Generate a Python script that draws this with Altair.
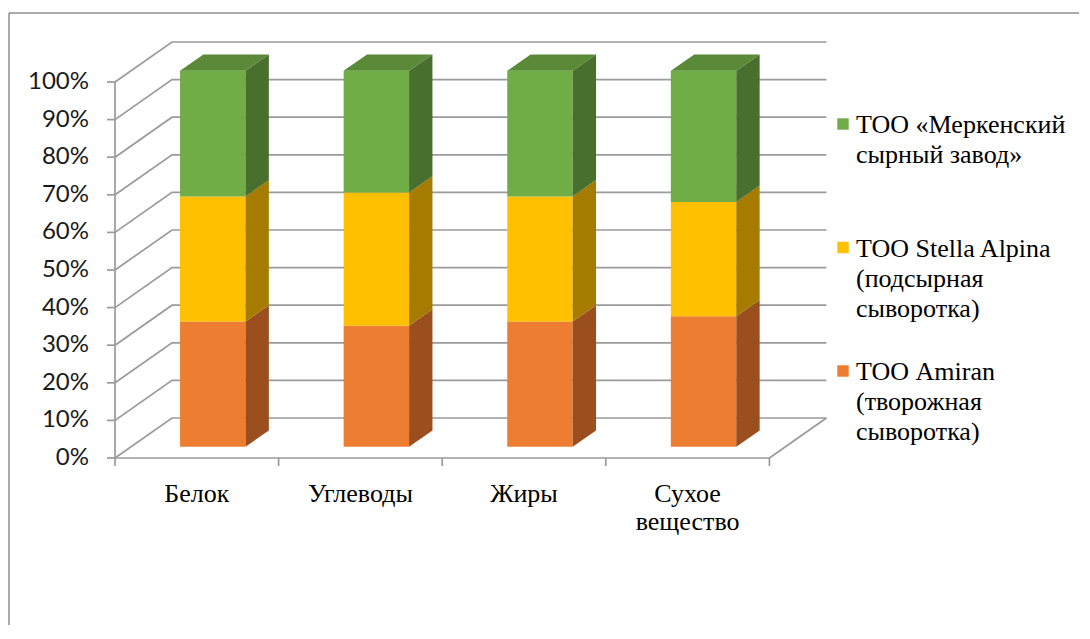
import altair as alt
import pandas as pd

# ---------------- data ----------------
categories = ["Белок", "Углеводы", "Жиры", "Сухое\nвещество"]
series_names = [
    "ТОО Amiran\n(творожная\nсыворотка)",
    "ТОО Stella Alpina\n(подсырная\nсыворотка)",
    "ТОО «Меркенский\nсырный завод»",
]
amiran = [33.3, 32.2, 33.3, 34.7]
stella = [33.3, 35.4, 33.3, 30.4]
merken = [33.4, 32.4, 33.4, 34.9]
y_ticks = [0, 10, 20, 30, 40, 50, 60, 70, 80, 90, 100]

# ---------------- style / projection ----------------
front_colors = ["#ED7D31", "#FFC000", "#70AD47"]
side_colors = ["#9B4F1E", "#A57C00", "#486F2E"]
top_color = "#5A8A38"
grid_color = "#9a9a9a"

W, H = 1070, 612                 # view (frame) size
PX_CAT, PX_PCT = 163.6, 3.76     # pixels per category / per percent
X0, Y0 = 106, 445                # front-plane origin inside view
DEPTH_PX = (57, 40)              # 3-D depth offset in pixels
DXU = DEPTH_PX[0] / PX_CAT
DYU = DEPTH_PX[1] / PX_PCT
BAR_W = 0.4
D_FRONT, D_BACK = 0.28, 0.69
TICK = 8

xs = alt.Scale(domain=[0, 4], range=[X0, X0 + 4 * PX_CAT], zero=False, nice=False)
ys = alt.Scale(domain=[0, 100], range=[Y0, Y0 - 100 * PX_PCT], zero=False, nice=False)


def proj(cx, pct, d):
    return cx + d * DXU, pct + d * DYU


# ---------------- gridlines / walls ----------------
rows = []
def add_line(gid, pts):
    for k, (x, y) in enumerate(pts):
        rows.append({"gid": gid, "seq": k, "x": x, "y": y})

for p in y_ticks:
    add_line(f"g{p}", [proj(0, p, 0), proj(0, p, 1), proj(4, p, 1)])
    add_line(f"t{p}", [(-TICK / PX_CAT, p), (0, p)])
add_line("floor_front", [proj(0, 0, 0), proj(4, 0, 0)])
add_line("floor_right", [proj(4, 0, 0), proj(4, 0, 1)])
add_line("front_axis", [proj(0, 0, 0), proj(0, 100, 0)])
for i in range(5):
    add_line(f"xt{i}", [(i, 0), (i, -TICK / PX_PCT)])
grid_df = pd.DataFrame(rows)

grid = alt.Chart(grid_df).mark_line(color=grid_color, strokeWidth=1.7).encode(
    x=alt.X("x:Q", scale=xs, axis=None),
    y=alt.Y("y:Q", scale=ys, axis=None),
    detail="gid:N",
    order="seq:Q",
)

# ---------------- bars ----------------
values = [amiran, stella, merken]
front_rows, side_rows, top_rows = [], [], []
for i in range(len(categories)):
    base = 0.0
    for s, vals in enumerate(values):
        lo, hi = base, base + vals[i]
        base = hi
        xl = i + 0.5 - BAR_W / 2
        xr = i + 0.5 + BAR_W / 2
        fx0, fy0 = proj(xl, lo, D_FRONT)
        fx1, fy1 = proj(xr, hi, D_FRONT)
        front_rows.append({"series": series_names[s], "x": fx0, "x2": fx1, "y": fy0, "y2": fy1})
        fid = f"{i}-{s}"
        for d in (D_FRONT, D_BACK):
            sx, sy0 = proj(xr, lo, d)
            _, sy1 = proj(xr, hi, d)
            side_rows.append({"face": fid, "series": series_names[s], "x": sx, "y": sy0, "y2": sy1})
        if s == len(values) - 1:
            for d in (D_FRONT, D_BACK):
                tx0, ty = proj(xl, hi, d)
                tx1, _ = proj(xr, hi, d)
                top_rows.append({"face": fid, "x": tx0, "x2": tx1, "y": ty})

front = alt.Chart(pd.DataFrame(front_rows)).mark_rect().encode(
    x=alt.X("x:Q", scale=xs, axis=None), x2="x2:Q",
    y=alt.Y("y:Q", scale=ys, axis=None, stack=None), y2="y2:Q",
    color=alt.Color("series:N", scale=alt.Scale(domain=series_names, range=front_colors), legend=None),
)
side = alt.Chart(pd.DataFrame(side_rows)).mark_area(orient="vertical").encode(
    x=alt.X("x:Q", scale=xs, axis=None),
    y=alt.Y("y:Q", scale=ys, axis=None, stack=None), y2="y2:Q",
    detail="face:N",
    color=alt.Color("series:N", scale=alt.Scale(domain=series_names, range=side_colors), legend=None),
)
top = alt.Chart(pd.DataFrame(top_rows)).mark_area(orient="horizontal", color=top_color).encode(
    y=alt.Y("y:Q", scale=ys, axis=None),
    x=alt.X("x:Q", scale=xs, axis=None, stack=None), x2="x2:Q",
    detail="face:N",
)

# ---------------- axis labels ----------------
ylab_df = pd.DataFrame({"x": [0] * len(y_ticks), "y": y_ticks, "label": [f"{p}%" for p in y_ticks]})
ylabels = alt.Chart(ylab_df).mark_text(
    align="right", baseline="middle", dx=-26, font="Lato", fontSize=24, color="#1a1a1a"
).encode(x=alt.X("x:Q", scale=xs, axis=None), y=alt.Y("y:Q", scale=ys, axis=None), text="label:N")

xlab_df = pd.DataFrame({"x": [i + 0.5 for i in range(len(categories))], "y": [0] * len(categories), "label": categories})
xlabels = alt.Chart(xlab_df).mark_text(
    align="center", baseline="top", dy=23, lineBreak="\n", lineHeight=28,
    font="Liberation Serif", fontSize=26, color="#000000"
).encode(x=alt.X("x:Q", scale=xs, axis=None), y=alt.Y("y:Q", scale=ys, axis=None), text="label:N")

# ---------------- legend ----------------
LEG_X, LEG_Y, LEG_PITCH = 834, 111, 123.5
legend_layers = []
for k, s in enumerate([2, 1, 0]):
    ldf = pd.DataFrame({"name": [series_names[s]]})
    yy = LEG_Y + k * LEG_PITCH
    legend_layers.append(
        alt.Chart(ldf).mark_square(size=130, color=front_colors[s], opacity=1).encode(
            x=alt.value(LEG_X), y=alt.value(yy))
    )
    legend_layers.append(
        alt.Chart(ldf).mark_text(
            align="left", baseline="alphabetic", lineBreak="\n", lineHeight=30,
            font="Liberation Serif", fontSize=26, color="#000000"
        ).encode(x=alt.value(LEG_X + 13), y=alt.value(yy + 9), text="name:N")
    )

# ---------------- frame ----------------
fdf = pd.DataFrame({"a": [0]})
frame_top = alt.Chart(fdf).mark_rule(color="#8f8f8f", strokeWidth=1.5).encode(
    x=alt.value(0), x2=alt.value(W), y=alt.value(0))
frame_left = alt.Chart(fdf).mark_rule(color="#8f8f8f", strokeWidth=1.5).encode(
    x=alt.value(0), y=alt.value(0), y2=alt.value(H))

chart = alt.layer(
    frame_top, frame_left, grid, front, side, top, ylabels, xlabels, *legend_layers
).resolve_scale(color="independent").properties(
    width=W, height=H,
    autosize=alt.AutoSizeParams(type="none"),
    padding={"left": 1, "top": 5, "right": 0, "bottom": 0},
).configure_view(stroke=None)

chart.save("out.html", embed_options={"renderer": "svg", "actions": False})
